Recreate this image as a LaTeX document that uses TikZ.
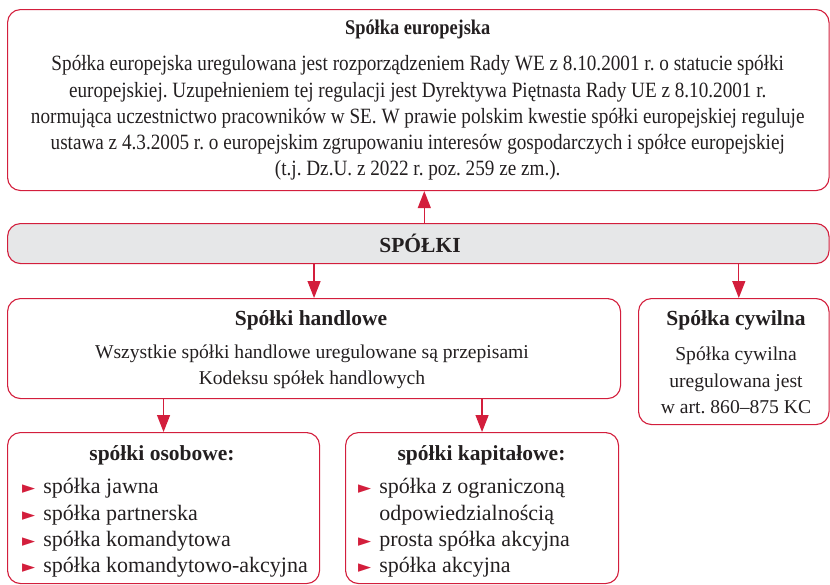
\documentclass[tikz,border=0pt]{standalone}
\usepackage{fontspec}
\setmainfont{Liberation Serif}
\newfontfamily\waski[FakeStretch=0.88]{Liberation Serif}
\newfontfamily\symbole{DejaVu Sans}
\usetikzlibrary{arrows.meta}
\definecolor{czerwony}{RGB}{211,30,60}
\definecolor{szary}{RGB}{230,231,232}
\definecolor{tekst}{RGB}{35,31,32}
\newcommand{\punkt}{{\symbole\color{czerwony}\fontsize{17}{17}\selectfont\char"25BA}}
\frenchspacing
\tikzset{
ramka/.style={draw=czerwony, line width=1.1pt, rounded corners=13pt, inner sep=0pt, anchor=north west},
tytul/.style={text=tekst, font=\bfseries\fontsize{21.5}{24}\selectfont},
opis/.style={text=tekst, align=center, inner sep=0pt, font=\fontsize{19.6}{26.2}\selectfont},
lista/.style={text=tekst, align=left, inner sep=0pt, anchor=west, font=\fontsize{22}{26.2}\selectfont},
strzalka/.style={draw=czerwony, line width=1.3pt, -{Triangle[length=17pt,width=13pt]}}
}
\begin{document}
\begin{tikzpicture}[x=1pt,y=-1pt]
\useasboundingbox (0,0) rectangle (830,584);
% ramki
\node[ramka, minimum width=821.5pt, minimum height=181pt] (europa) at (7,9) {};
\node[ramka, fill=szary, minimum width=821.5pt, minimum height=40pt] (spolki) at (7,223) {};
\node[ramka, minimum width=613pt, minimum height=100pt] (handlowe) at (7,298) {};
\node[ramka, minimum width=190.5pt, minimum height=126pt] (cywilna) at (638,298) {};
\node[ramka, minimum width=312pt, minimum height=151pt] (osobowe) at (7,432) {};
\node[ramka, minimum width=273pt, minimum height=151pt] (kapitalowe) at (345,432) {};
% teksty
\node[tytul, font=\waski\bfseries\fontsize{20.9}{24}\selectfont] (europaT) at (417.75,29) {Spółka europejska};
\node[opis, font=\waski\fontsize{21.8}{26.2}\selectfont] (europaO) at (417.75,118) {Spółka europejska uregulowana jest rozporządzeniem Rady WE z 8.10.2001 r. o statucie spółki\\
europejskiej. Uzupełnieniem tej regulacji jest Dyrektywa Piętnasta Rady UE z 8.10.2001 r.\\
normująca uczestnictwo pracowników w SE. W prawie polskim kwestie spółki europejskiej reguluje\\
ustawa z 4.3.2005 r. o europejskim zgrupowaniu interesów gospodarczych i spółce europejskiej\\
(t.j. Dz.U. z 2022 r. poz. 259 ze zm.).};
\node[tytul] (spolkiT) at (420,243) {SPÓŁKI};
\node[tytul] (handloweT) at (311,320) {Spółki handlowe};
\node[opis] (handloweO) at (312,367) {Wszystkie spółki handlowe uregulowane są przepisami\\Kodeksu spółek handlowych};
\node[tytul] (cywilnaT) at (736,320) {Spółka cywilna};
\node[opis] (cywilnaO) at (736,380.5) {Spółka cywilna\\uregulowana jest\\w art. 860–875 KC};
\node[tytul] (osoboweT) at (162,455) {spółki osobowe:};
\node[lista] (osoboweL) at (22,528) {\punkt\hspace{8pt}spółka jawna\\
\punkt\hspace{8pt}spółka partnerska\\
\punkt\hspace{8pt}spółka komandytowa\\
\punkt\hspace{8pt}spółka komandytowo-akcyjna};
\node[tytul] (kapitaloweT) at (481.5,455) {spółki kapitałowe:};
\node[lista] (kapitaloweL) at (358,528) {\punkt\hspace{8pt}spółka z ograniczoną\\
\phantom{\punkt}\hspace{8pt}odpowiedzialnością\\
\punkt\hspace{8pt}prosta spółka akcyjna\\
\punkt\hspace{8pt}spółka akcyjna};
% strzalki
\draw[strzalka] ([xshift=6pt]spolki.north) -- ([xshift=6pt]europa.south);
\draw[strzalka] (spolki.south -| handlowe.north) -- (handlowe.north);
\draw[strzalka] ([xshift=5pt]spolki.south -| cywilna.north) -- ([xshift=5pt]cywilna.north);
\draw[strzalka] (handlowe.south -| osobowe.north) -- (osobowe.north);
\draw[strzalka] (handlowe.south -| kapitalowe.north) -- (kapitalowe.north);
\end{tikzpicture}
\end{document}
